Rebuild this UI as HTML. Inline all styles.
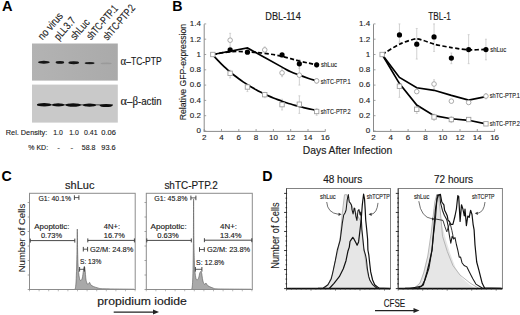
<!DOCTYPE html>
<html><head><meta charset="utf-8"><style>
html,body{margin:0;padding:0;background:#fff;width:520px;height:315px;overflow:hidden;}
svg{display:block;}
text{font-family:"Liberation Sans",sans-serif;}
</style></head><body>
<svg width="520" height="315" viewBox="0 0 520 315">
<rect width="520" height="315" fill="#fff"/>
<text x="2.0" y="10.9" font-size="14.6" font-weight="bold" fill="#000" stroke="#000" stroke-width="0.0" >A</text>
<text x="0" y="0" font-size="10.8" textLength="32" lengthAdjust="spacingAndGlyphs" fill="#1a1a1a" stroke="#1a1a1a" stroke-width="0.15" transform="translate(42.6,40.5) rotate(-49)">no virus</text>
<text x="0" y="0" font-size="10.8" textLength="26.5" lengthAdjust="spacingAndGlyphs" fill="#1a1a1a" stroke="#1a1a1a" stroke-width="0.15" transform="translate(58.8,40.9) rotate(-49)">pLL3.7</text>
<text x="0" y="0" font-size="10.8" textLength="23.8" lengthAdjust="spacingAndGlyphs" fill="#1a1a1a" stroke="#1a1a1a" stroke-width="0.15" transform="translate(74.9,40.6) rotate(-49)">shLuc</text>
<text x="0" y="0" font-size="10.8" textLength="42.0" lengthAdjust="spacingAndGlyphs" fill="#1a1a1a" stroke="#1a1a1a" stroke-width="0.15" transform="translate(91.0,40.6) rotate(-49)">shTC-PTP.1</text>
<text x="0" y="0" font-size="10.8" textLength="43.3" lengthAdjust="spacingAndGlyphs" fill="#1a1a1a" stroke="#1a1a1a" stroke-width="0.15" transform="translate(107.4,41.0) rotate(-49)">shTC-PTP.2</text>
<defs><filter id="bl" x="-50%" y="-100%" width="200%" height="300%"><feGaussianBlur stdDeviation="0.7"/></filter><filter id="bl2" x="-50%" y="-100%" width="200%" height="300%"><feGaussianBlur stdDeviation="0.9"/></filter></defs>
<defs><linearGradient id="g1" x1="0" x2="1" y1="0" y2="0"><stop offset="0" stop-color="#b3b3b3"/><stop offset="1" stop-color="#aaaaaa"/></linearGradient></defs><rect x="32" y="43.5" width="85.8" height="37.1" fill="url(#g1)"/>
<rect x="32" y="84.6" width="85.8" height="38" fill="#c9c9c9"/>
<ellipse cx="43.9" cy="62.2" rx="5.9" ry="1.45" fill="#161616" filter="url(#bl)"/>
<ellipse cx="59.9" cy="62.4" rx="4.3" ry="1.4" fill="#161616" filter="url(#bl)"/>
<ellipse cx="73.7" cy="62.7" rx="5.3" ry="1.45" fill="#121212" filter="url(#bl)"/>
<ellipse cx="89.6" cy="63.1" rx="5.0" ry="1.2" fill="#1c1c1c" filter="url(#bl)"/>
<ellipse cx="106.1" cy="63.4" rx="5.5" ry="0.9" fill="#9a9a9a" filter="url(#bl)"/>
<rect x="37" y="104.3" width="76" height="1.1" fill="#444" filter="url(#bl)"/>
<rect x="36.9" y="103.1" width="14.4" height="3.4" rx="7.2" ry="1.7" fill="#111" filter="url(#bl)"/>
<rect x="52.1" y="103.30000000000001" width="12.2" height="3.2" rx="6.1" ry="1.6" fill="#111" filter="url(#bl)"/>
<rect x="65.60000000000001" y="103.3" width="15.2" height="3.4" rx="7.6" ry="1.7" fill="#111" filter="url(#bl)"/>
<rect x="82.9" y="103.60000000000001" width="13.2" height="3.2" rx="6.6" ry="1.6" fill="#111" filter="url(#bl)"/>
<rect x="99.5" y="104.1" width="13.2" height="3.0" rx="6.6" ry="1.5" fill="#111" filter="url(#bl)"/>
<text x="120.6" y="64.8" font-size="10.2" textLength="41" lengthAdjust="spacingAndGlyphs" fill="#1a1a1a" stroke="#1a1a1a" stroke-width="0.16"><tspan font-family="Liberation Serif" font-size="13">α</tspan>–TC-PTP</text>
<text x="120.6" y="104.5" font-size="10.2" textLength="41" lengthAdjust="spacingAndGlyphs" fill="#1a1a1a" stroke="#1a1a1a" stroke-width="0.16"><tspan font-family="Liberation Serif" font-size="13">α</tspan>–<tspan font-family="Liberation Serif" font-size="11.5">β</tspan>-actin</text>
<text x="5.8" y="135.4" font-size="8.1" textLength="41.4" lengthAdjust="spacingAndGlyphs" fill="#1a1a1a" stroke="#1a1a1a" stroke-width="0.13" >Rel. Density:</text>
<text x="53.2" y="135.4" font-size="8.1" textLength="9.6" lengthAdjust="spacingAndGlyphs" fill="#1a1a1a" stroke="#1a1a1a" stroke-width="0.13" >1.0</text>
<text x="69.2" y="135.4" font-size="8.1" textLength="9.6" lengthAdjust="spacingAndGlyphs" fill="#1a1a1a" stroke="#1a1a1a" stroke-width="0.13" >1.0</text>
<text x="84" y="135.4" font-size="8.1" textLength="13.6" lengthAdjust="spacingAndGlyphs" fill="#1a1a1a" stroke="#1a1a1a" stroke-width="0.13" >0.41</text>
<text x="101.3" y="135.4" font-size="8.1" textLength="14.6" lengthAdjust="spacingAndGlyphs" fill="#1a1a1a" stroke="#1a1a1a" stroke-width="0.13" >0.06</text>
<text x="28.3" y="150.0" font-size="8.1" textLength="19.8" lengthAdjust="spacingAndGlyphs" fill="#1a1a1a" stroke="#1a1a1a" stroke-width="0.13" >% KD:</text>
<text x="57.3" y="150.0" font-size="8.1" fill="#1a1a1a" stroke="#1a1a1a" stroke-width="0.13" >-</text>
<text x="70.4" y="150.0" font-size="8.1" fill="#1a1a1a" stroke="#1a1a1a" stroke-width="0.13" >-</text>
<text x="81.8" y="150.0" font-size="8.1" textLength="13.7" lengthAdjust="spacingAndGlyphs" fill="#1a1a1a" stroke="#1a1a1a" stroke-width="0.13" >58.8</text>
<text x="101.3" y="150.0" font-size="8.1" textLength="14.4" lengthAdjust="spacingAndGlyphs" fill="#1a1a1a" stroke="#1a1a1a" stroke-width="0.13" >93.6</text>
<text x="172.2" y="10.9" font-size="14.2" font-weight="bold" fill="#000" stroke="#000" stroke-width="0.0" >B</text>
<line x1="204.2" y1="24.2" x2="204.2" y2="131.5" stroke="#8a8a8a" stroke-width="1" />
<line x1="203.7" y1="131.4" x2="325.6" y2="131.4" stroke="#8a8a8a" stroke-width="1" />
<line x1="204.2" y1="131.0" x2="206.2" y2="131.0" stroke="#8a8a8a" stroke-width="0.8" />
<text x="200.89999999999998" y="133.3" font-size="8.0" text-anchor="end" fill="#222" stroke="#222" stroke-width="0.13" >0</text>
<line x1="204.2" y1="115.7" x2="206.2" y2="115.7" stroke="#8a8a8a" stroke-width="0.8" />
<text x="200.89999999999998" y="118.0" font-size="8.0" text-anchor="end" fill="#222" stroke="#222" stroke-width="0.13" >0.2</text>
<line x1="204.2" y1="100.4" x2="206.2" y2="100.4" stroke="#8a8a8a" stroke-width="0.8" />
<text x="200.89999999999998" y="102.7" font-size="8.0" text-anchor="end" fill="#222" stroke="#222" stroke-width="0.13" >0.4</text>
<line x1="204.2" y1="85.1" x2="206.2" y2="85.1" stroke="#8a8a8a" stroke-width="0.8" />
<text x="200.89999999999998" y="87.39999999999999" font-size="8.0" text-anchor="end" fill="#222" stroke="#222" stroke-width="0.13" >0.6</text>
<line x1="204.2" y1="69.8" x2="206.2" y2="69.8" stroke="#8a8a8a" stroke-width="0.8" />
<text x="200.89999999999998" y="72.1" font-size="8.0" text-anchor="end" fill="#222" stroke="#222" stroke-width="0.13" >0.8</text>
<line x1="204.2" y1="54.5" x2="206.2" y2="54.5" stroke="#8a8a8a" stroke-width="0.8" />
<text x="200.89999999999998" y="56.8" font-size="8.0" text-anchor="end" fill="#222" stroke="#222" stroke-width="0.13" >1</text>
<line x1="204.2" y1="39.19999999999999" x2="206.2" y2="39.19999999999999" stroke="#8a8a8a" stroke-width="0.8" />
<text x="200.89999999999998" y="41.499999999999986" font-size="8.0" text-anchor="end" fill="#222" stroke="#222" stroke-width="0.13" >1.2</text>
<line x1="204.2" y1="23.89999999999999" x2="206.2" y2="23.89999999999999" stroke="#8a8a8a" stroke-width="0.8" />
<text x="200.89999999999998" y="26.199999999999992" font-size="8.0" text-anchor="end" fill="#222" stroke="#222" stroke-width="0.13" >1.4</text>
<line x1="204.2" y1="131" x2="204.2" y2="129" stroke="#8a8a8a" stroke-width="0.8" />
<text x="204.2" y="139.6" font-size="8.0" text-anchor="middle" fill="#222" stroke="#222" stroke-width="0.13" >2</text>
<line x1="221.5" y1="131" x2="221.5" y2="129" stroke="#8a8a8a" stroke-width="0.8" />
<text x="221.5" y="139.6" font-size="8.0" text-anchor="middle" fill="#222" stroke="#222" stroke-width="0.13" >4</text>
<line x1="238.79999999999998" y1="131" x2="238.79999999999998" y2="129" stroke="#8a8a8a" stroke-width="0.8" />
<text x="238.79999999999998" y="139.6" font-size="8.0" text-anchor="middle" fill="#222" stroke="#222" stroke-width="0.13" >6</text>
<line x1="256.1" y1="131" x2="256.1" y2="129" stroke="#8a8a8a" stroke-width="0.8" />
<text x="256.1" y="139.6" font-size="8.0" text-anchor="middle" fill="#222" stroke="#222" stroke-width="0.13" >8</text>
<line x1="273.4" y1="131" x2="273.4" y2="129" stroke="#8a8a8a" stroke-width="0.8" />
<text x="273.4" y="139.6" font-size="8.0" text-anchor="middle" fill="#222" stroke="#222" stroke-width="0.13" >10</text>
<line x1="290.7" y1="131" x2="290.7" y2="129" stroke="#8a8a8a" stroke-width="0.8" />
<text x="290.7" y="139.6" font-size="8.0" text-anchor="middle" fill="#222" stroke="#222" stroke-width="0.13" >12</text>
<line x1="308.0" y1="131" x2="308.0" y2="129" stroke="#8a8a8a" stroke-width="0.8" />
<text x="308.0" y="139.6" font-size="8.0" text-anchor="middle" fill="#222" stroke="#222" stroke-width="0.13" >14</text>
<line x1="325.3" y1="131" x2="325.3" y2="129" stroke="#8a8a8a" stroke-width="0.8" />
<text x="325.3" y="139.6" font-size="8.0" text-anchor="middle" fill="#222" stroke="#222" stroke-width="0.13" >16</text>
<text x="265.3" y="19.5" font-size="11" textLength="35.5" lengthAdjust="spacingAndGlyphs" fill="#1a1a1a" stroke="#1a1a1a" stroke-width="0.16" >DBL-114</text>
<line x1="230.14999999999998" y1="33.309499999999986" x2="230.14999999999998" y2="46.314499999999995" stroke="#bdbdbd" stroke-width="0.7" />
<line x1="229.14999999999998" y1="33.309499999999986" x2="231.14999999999998" y2="33.309499999999986" stroke="#bdbdbd" stroke-width="0.6" />
<line x1="229.14999999999998" y1="46.314499999999995" x2="231.14999999999998" y2="46.314499999999995" stroke="#bdbdbd" stroke-width="0.6" />
<line x1="282.05" y1="68.27" x2="282.05" y2="76.685" stroke="#bdbdbd" stroke-width="0.7" />
<line x1="281.05" y1="68.27" x2="283.05" y2="68.27" stroke="#bdbdbd" stroke-width="0.6" />
<line x1="281.05" y1="76.685" x2="283.05" y2="76.685" stroke="#bdbdbd" stroke-width="0.6" />
<line x1="299.35" y1="59.855000000000004" x2="299.35" y2="85.1" stroke="#bdbdbd" stroke-width="0.7" />
<line x1="298.35" y1="59.855000000000004" x2="300.35" y2="59.855000000000004" stroke="#bdbdbd" stroke-width="0.6" />
<line x1="298.35" y1="85.1" x2="300.35" y2="85.1" stroke="#bdbdbd" stroke-width="0.6" />
<line x1="299.35" y1="60.007999999999996" x2="299.35" y2="68.423" stroke="#bdbdbd" stroke-width="0.7" />
<line x1="298.35" y1="60.007999999999996" x2="300.35" y2="60.007999999999996" stroke="#bdbdbd" stroke-width="0.6" />
<line x1="298.35" y1="68.423" x2="300.35" y2="68.423" stroke="#bdbdbd" stroke-width="0.6" />
<line x1="230.14999999999998" y1="70.259" x2="230.14999999999998" y2="77.909" stroke="#bdbdbd" stroke-width="0.7" />
<line x1="229.14999999999998" y1="70.259" x2="231.14999999999998" y2="70.259" stroke="#bdbdbd" stroke-width="0.6" />
<line x1="229.14999999999998" y1="77.909" x2="231.14999999999998" y2="77.909" stroke="#bdbdbd" stroke-width="0.6" />
<line x1="247.45" y1="84.7175" x2="247.45" y2="91.6025" stroke="#bdbdbd" stroke-width="0.7" />
<line x1="246.45" y1="84.7175" x2="248.45" y2="84.7175" stroke="#bdbdbd" stroke-width="0.6" />
<line x1="246.45" y1="91.6025" x2="248.45" y2="91.6025" stroke="#bdbdbd" stroke-width="0.6" />
<line x1="264.75" y1="92.3675" x2="264.75" y2="97.7225" stroke="#bdbdbd" stroke-width="0.7" />
<line x1="263.75" y1="92.3675" x2="265.75" y2="92.3675" stroke="#bdbdbd" stroke-width="0.6" />
<line x1="263.75" y1="97.7225" x2="265.75" y2="97.7225" stroke="#bdbdbd" stroke-width="0.6" />
<line x1="282.05" y1="99.2525" x2="282.05" y2="109.9625" stroke="#bdbdbd" stroke-width="0.7" />
<line x1="281.05" y1="99.2525" x2="283.05" y2="99.2525" stroke="#bdbdbd" stroke-width="0.6" />
<line x1="281.05" y1="109.9625" x2="283.05" y2="109.9625" stroke="#bdbdbd" stroke-width="0.6" />
<line x1="299.35" y1="95.81" x2="299.35" y2="113.405" stroke="#bdbdbd" stroke-width="0.7" />
<line x1="298.35" y1="95.81" x2="300.35" y2="95.81" stroke="#bdbdbd" stroke-width="0.6" />
<line x1="298.35" y1="113.405" x2="300.35" y2="113.405" stroke="#bdbdbd" stroke-width="0.6" />
<line x1="316.65" y1="108.4325" x2="316.65" y2="115.3175" stroke="#bdbdbd" stroke-width="0.7" />
<line x1="315.65" y1="108.4325" x2="317.65" y2="108.4325" stroke="#bdbdbd" stroke-width="0.6" />
<line x1="315.65" y1="115.3175" x2="317.65" y2="115.3175" stroke="#bdbdbd" stroke-width="0.6" />
<line x1="316.65" y1="78.5975" x2="316.65" y2="83.1875" stroke="#bdbdbd" stroke-width="0.7" />
<line x1="315.65" y1="78.5975" x2="317.65" y2="78.5975" stroke="#bdbdbd" stroke-width="0.6" />
<line x1="315.65" y1="83.1875" x2="317.65" y2="83.1875" stroke="#bdbdbd" stroke-width="0.6" />
<line x1="316.65" y1="62.5325" x2="316.65" y2="67.1225" stroke="#bdbdbd" stroke-width="0.7" />
<line x1="315.65" y1="62.5325" x2="317.65" y2="62.5325" stroke="#bdbdbd" stroke-width="0.6" />
<line x1="315.65" y1="67.1225" x2="317.65" y2="67.1225" stroke="#bdbdbd" stroke-width="0.6" />
<line x1="264.75" y1="46.849999999999994" x2="264.75" y2="52.205" stroke="#bdbdbd" stroke-width="0.7" />
<line x1="263.75" y1="46.849999999999994" x2="265.75" y2="46.849999999999994" stroke="#bdbdbd" stroke-width="0.6" />
<line x1="263.75" y1="52.205" x2="265.75" y2="52.205" stroke="#bdbdbd" stroke-width="0.6" />
<path d="M212.85,54.50 C216.31,53.96 223.23,52.36 230.15,51.82 C237.07,51.29 240.53,51.52 247.45,51.82 C254.37,52.13 257.83,52.43 264.75,53.35 C271.67,54.27 275.13,54.88 282.05,56.41 C288.97,57.94 292.43,59.32 299.35,61.00 C306.27,62.69 313.19,64.06 316.65,64.83" stroke="#000" stroke-width="1.7" fill="none" stroke-dasharray="4.2,2.3"/>
<path d="M212.85,54.50 L247.45,47.92 L247.45,47.92 C250.91,49.85 257.83,53.72 264.75,57.56 C271.67,61.40 276.86,64.29 282.05,67.12 C287.24,69.95 287.24,70.11 290.70,71.71 C294.16,73.32 295.89,73.85 299.35,75.16 C302.81,76.46 304.54,77.07 308.00,78.22 C311.46,79.36 314.92,80.36 316.65,80.89" stroke="#000" stroke-width="1.7" fill="none" />
<path d="M212.85,54.84 C213.72,55.80 215.44,57.77 217.17,59.60 C218.90,61.44 219.77,62.32 221.50,64.02 C223.23,65.73 224.09,66.55 225.82,68.13 C227.55,69.71 228.42,70.47 230.15,71.94 C231.88,73.42 232.75,74.12 234.47,75.49 C236.20,76.86 237.07,77.51 238.80,78.78 C240.53,80.05 241.40,80.66 243.12,81.84 C244.85,83.02 245.72,83.58 247.45,84.68 C249.18,85.78 250.04,86.30 251.77,87.32 C253.50,88.34 254.37,88.83 256.10,89.77 C257.83,90.72 258.69,91.17 260.43,92.05 C262.16,92.93 263.02,93.35 264.75,94.17 C266.48,94.98 267.34,95.38 269.07,96.13 C270.81,96.89 271.67,97.26 273.40,97.96 C275.13,98.66 276.00,99.00 277.73,99.66 C279.46,100.31 280.32,100.63 282.05,101.23 C283.78,101.84 284.64,102.13 286.38,102.70 C288.11,103.26 288.97,103.53 290.70,104.06 C292.43,104.58 293.29,104.83 295.02,105.32 C296.75,105.81 297.62,106.04 299.35,106.50 C301.08,106.95 301.94,107.17 303.68,107.59 C305.41,108.01 306.27,108.21 308.00,108.60 C309.73,108.99 310.59,109.18 312.32,109.54 C314.06,109.90 315.78,110.24 316.65,110.42" stroke="#000" stroke-width="1.7" fill="none" />
<rect x="227.95" y="71.12" width="4.4" height="4.4" fill="#fff" stroke="#a0a0a0" stroke-width="0.9"/>
<rect x="245.25" y="84.81" width="4.4" height="4.4" fill="#fff" stroke="#a0a0a0" stroke-width="0.9"/>
<rect x="262.55" y="92.46" width="4.4" height="4.4" fill="#fff" stroke="#a0a0a0" stroke-width="0.9"/>
<rect x="279.85" y="102.41" width="4.4" height="4.4" fill="#fff" stroke="#a0a0a0" stroke-width="0.9"/>
<rect x="297.15" y="102.02" width="4.4" height="4.4" fill="#fff" stroke="#a0a0a0" stroke-width="0.9"/>
<rect x="314.45" y="109.29" width="4.4" height="4.4" fill="#fff" stroke="#a0a0a0" stroke-width="0.9"/>
<rect x="210.65" y="52.30" width="4.4" height="4.4" fill="#fff" stroke="#a0a0a0" stroke-width="0.9"/>
<circle cx="230.15" cy="40.19" r="2.3" fill="#fff" stroke="#a0a0a0" stroke-width="0.9"/>
<circle cx="264.75" cy="49.91" r="2.3" fill="#fff" stroke="#a0a0a0" stroke-width="0.9"/>
<circle cx="282.05" cy="72.86" r="2.3" fill="#fff" stroke="#a0a0a0" stroke-width="0.9"/>
<circle cx="299.35" cy="75.16" r="2.3" fill="#fff" stroke="#a0a0a0" stroke-width="0.9"/>
<circle cx="316.65" cy="80.89" r="2.3" fill="#fff" stroke="#a0a0a0" stroke-width="0.9"/>
<circle cx="230.15" cy="49.83" r="2.6" fill="#000"/>
<circle cx="247.45" cy="52.20" r="2.6" fill="#000"/>
<circle cx="282.05" cy="54.88" r="2.6" fill="#000"/>
<circle cx="299.35" cy="63.83" r="2.6" fill="#000"/>
<circle cx="316.65" cy="64.83" r="2.6" fill="#000"/>
<text x="321" y="67.4" font-size="6.9" textLength="16" lengthAdjust="spacingAndGlyphs" fill="#1a1a1a" stroke="#1a1a1a" stroke-width="0.13" >shLuc</text>
<text x="320.7" y="83.8" font-size="6.9" textLength="30" lengthAdjust="spacingAndGlyphs" fill="#1a1a1a" stroke="#1a1a1a" stroke-width="0.13" >shTC-PTP.1</text>
<text x="320.7" y="113.6" font-size="6.9" textLength="30" lengthAdjust="spacingAndGlyphs" fill="#1a1a1a" stroke="#1a1a1a" stroke-width="0.13" >shTC-PTP.2</text>
<text x="302.8" y="153.7" font-size="10.5" textLength="89.4" lengthAdjust="spacingAndGlyphs" fill="#1a1a1a" stroke="#1a1a1a" stroke-width="0.16" >Days After Infection</text>
<text x="0" y="0" font-size="9.4" textLength="96.5" lengthAdjust="spacingAndGlyphs" fill="#1a1a1a" stroke="#1a1a1a" stroke-width="0.12" transform="translate(185.7,120.3) rotate(-90)">Relative GFP-expression</text>
<line x1="373.5" y1="24.2" x2="373.5" y2="131.5" stroke="#8a8a8a" stroke-width="1" />
<line x1="373.0" y1="131.4" x2="494.90000000000003" y2="131.4" stroke="#8a8a8a" stroke-width="1" />
<line x1="373.5" y1="131.0" x2="375.5" y2="131.0" stroke="#8a8a8a" stroke-width="0.8" />
<text x="370.2" y="133.3" font-size="8.0" text-anchor="end" fill="#222" stroke="#222" stroke-width="0.13" >0</text>
<line x1="373.5" y1="115.7" x2="375.5" y2="115.7" stroke="#8a8a8a" stroke-width="0.8" />
<text x="370.2" y="118.0" font-size="8.0" text-anchor="end" fill="#222" stroke="#222" stroke-width="0.13" >0.2</text>
<line x1="373.5" y1="100.4" x2="375.5" y2="100.4" stroke="#8a8a8a" stroke-width="0.8" />
<text x="370.2" y="102.7" font-size="8.0" text-anchor="end" fill="#222" stroke="#222" stroke-width="0.13" >0.4</text>
<line x1="373.5" y1="85.1" x2="375.5" y2="85.1" stroke="#8a8a8a" stroke-width="0.8" />
<text x="370.2" y="87.39999999999999" font-size="8.0" text-anchor="end" fill="#222" stroke="#222" stroke-width="0.13" >0.6</text>
<line x1="373.5" y1="69.8" x2="375.5" y2="69.8" stroke="#8a8a8a" stroke-width="0.8" />
<text x="370.2" y="72.1" font-size="8.0" text-anchor="end" fill="#222" stroke="#222" stroke-width="0.13" >0.8</text>
<line x1="373.5" y1="54.5" x2="375.5" y2="54.5" stroke="#8a8a8a" stroke-width="0.8" />
<text x="370.2" y="56.8" font-size="8.0" text-anchor="end" fill="#222" stroke="#222" stroke-width="0.13" >1</text>
<line x1="373.5" y1="39.19999999999999" x2="375.5" y2="39.19999999999999" stroke="#8a8a8a" stroke-width="0.8" />
<text x="370.2" y="41.499999999999986" font-size="8.0" text-anchor="end" fill="#222" stroke="#222" stroke-width="0.13" >1.2</text>
<line x1="373.5" y1="23.89999999999999" x2="375.5" y2="23.89999999999999" stroke="#8a8a8a" stroke-width="0.8" />
<text x="370.2" y="26.199999999999992" font-size="8.0" text-anchor="end" fill="#222" stroke="#222" stroke-width="0.13" >1.4</text>
<line x1="373.5" y1="131" x2="373.5" y2="129" stroke="#8a8a8a" stroke-width="0.8" />
<text x="373.5" y="139.6" font-size="8.0" text-anchor="middle" fill="#222" stroke="#222" stroke-width="0.13" >2</text>
<line x1="390.8" y1="131" x2="390.8" y2="129" stroke="#8a8a8a" stroke-width="0.8" />
<text x="390.8" y="139.6" font-size="8.0" text-anchor="middle" fill="#222" stroke="#222" stroke-width="0.13" >4</text>
<line x1="408.1" y1="131" x2="408.1" y2="129" stroke="#8a8a8a" stroke-width="0.8" />
<text x="408.1" y="139.6" font-size="8.0" text-anchor="middle" fill="#222" stroke="#222" stroke-width="0.13" >6</text>
<line x1="425.4" y1="131" x2="425.4" y2="129" stroke="#8a8a8a" stroke-width="0.8" />
<text x="425.4" y="139.6" font-size="8.0" text-anchor="middle" fill="#222" stroke="#222" stroke-width="0.13" >8</text>
<line x1="442.7" y1="131" x2="442.7" y2="129" stroke="#8a8a8a" stroke-width="0.8" />
<text x="442.7" y="139.6" font-size="8.0" text-anchor="middle" fill="#222" stroke="#222" stroke-width="0.13" >10</text>
<line x1="460.0" y1="131" x2="460.0" y2="129" stroke="#8a8a8a" stroke-width="0.8" />
<text x="460.0" y="139.6" font-size="8.0" text-anchor="middle" fill="#222" stroke="#222" stroke-width="0.13" >12</text>
<line x1="477.3" y1="131" x2="477.3" y2="129" stroke="#8a8a8a" stroke-width="0.8" />
<text x="477.3" y="139.6" font-size="8.0" text-anchor="middle" fill="#222" stroke="#222" stroke-width="0.13" >14</text>
<line x1="494.6" y1="131" x2="494.6" y2="129" stroke="#8a8a8a" stroke-width="0.8" />
<text x="494.6" y="139.6" font-size="8.0" text-anchor="middle" fill="#222" stroke="#222" stroke-width="0.13" >16</text>
<text x="428.3" y="19.5" font-size="11" textLength="22.5" lengthAdjust="spacingAndGlyphs" fill="#1a1a1a" stroke="#1a1a1a" stroke-width="0.16" >TBL-1</text>
<line x1="399.45" y1="23.900000000000006" x2="399.45" y2="42.260000000000005" stroke="#bdbdbd" stroke-width="0.7" />
<line x1="398.45" y1="23.900000000000006" x2="400.45" y2="23.900000000000006" stroke="#bdbdbd" stroke-width="0.6" />
<line x1="398.45" y1="42.260000000000005" x2="400.45" y2="42.260000000000005" stroke="#bdbdbd" stroke-width="0.6" />
<line x1="416.75" y1="28.489999999999995" x2="416.75" y2="59.09" stroke="#bdbdbd" stroke-width="0.7" />
<line x1="415.75" y1="28.489999999999995" x2="417.75" y2="28.489999999999995" stroke="#bdbdbd" stroke-width="0.6" />
<line x1="415.75" y1="59.09" x2="417.75" y2="59.09" stroke="#bdbdbd" stroke-width="0.6" />
<line x1="434.05" y1="23.900000000000006" x2="434.05" y2="51.44" stroke="#bdbdbd" stroke-width="0.7" />
<line x1="433.05" y1="23.900000000000006" x2="435.05" y2="23.900000000000006" stroke="#bdbdbd" stroke-width="0.6" />
<line x1="433.05" y1="51.44" x2="435.05" y2="51.44" stroke="#bdbdbd" stroke-width="0.6" />
<line x1="451.35" y1="52.97" x2="451.35" y2="63.67999999999999" stroke="#bdbdbd" stroke-width="0.7" />
<line x1="450.35" y1="52.97" x2="452.35" y2="52.97" stroke="#bdbdbd" stroke-width="0.6" />
<line x1="450.35" y1="63.67999999999999" x2="452.35" y2="63.67999999999999" stroke="#bdbdbd" stroke-width="0.6" />
<line x1="468.65" y1="34.61" x2="468.65" y2="63.67999999999999" stroke="#bdbdbd" stroke-width="0.7" />
<line x1="467.65" y1="34.61" x2="469.65" y2="34.61" stroke="#bdbdbd" stroke-width="0.6" />
<line x1="467.65" y1="63.67999999999999" x2="469.65" y2="63.67999999999999" stroke="#bdbdbd" stroke-width="0.6" />
<line x1="485.95" y1="39.2" x2="485.95" y2="59.85499999999999" stroke="#bdbdbd" stroke-width="0.7" />
<line x1="484.95" y1="39.2" x2="486.95" y2="39.2" stroke="#bdbdbd" stroke-width="0.6" />
<line x1="484.95" y1="59.85499999999999" x2="486.95" y2="59.85499999999999" stroke="#bdbdbd" stroke-width="0.6" />
<line x1="399.45" y1="82.03999999999999" x2="399.45" y2="97.34" stroke="#bdbdbd" stroke-width="0.7" />
<line x1="398.45" y1="82.03999999999999" x2="400.45" y2="82.03999999999999" stroke="#bdbdbd" stroke-width="0.6" />
<line x1="398.45" y1="97.34" x2="400.45" y2="97.34" stroke="#bdbdbd" stroke-width="0.6" />
<line x1="434.05" y1="79.745" x2="434.05" y2="88.925" stroke="#bdbdbd" stroke-width="0.7" />
<line x1="433.05" y1="79.745" x2="435.05" y2="79.745" stroke="#bdbdbd" stroke-width="0.6" />
<line x1="433.05" y1="88.925" x2="435.05" y2="88.925" stroke="#bdbdbd" stroke-width="0.6" />
<line x1="416.75" y1="105.755" x2="416.75" y2="113.405" stroke="#bdbdbd" stroke-width="0.7" />
<line x1="415.75" y1="105.755" x2="417.75" y2="105.755" stroke="#bdbdbd" stroke-width="0.6" />
<line x1="415.75" y1="113.405" x2="417.75" y2="113.405" stroke="#bdbdbd" stroke-width="0.6" />
<line x1="434.05" y1="114.17" x2="434.05" y2="120.28999999999999" stroke="#bdbdbd" stroke-width="0.7" />
<line x1="433.05" y1="114.17" x2="435.05" y2="114.17" stroke="#bdbdbd" stroke-width="0.6" />
<line x1="433.05" y1="120.28999999999999" x2="435.05" y2="120.28999999999999" stroke="#bdbdbd" stroke-width="0.6" />
<line x1="451.35" y1="116.465" x2="451.35" y2="122.585" stroke="#bdbdbd" stroke-width="0.7" />
<line x1="450.35" y1="116.465" x2="452.35" y2="116.465" stroke="#bdbdbd" stroke-width="0.6" />
<line x1="450.35" y1="122.585" x2="452.35" y2="122.585" stroke="#bdbdbd" stroke-width="0.6" />
<line x1="485.95" y1="93.515" x2="485.95" y2="98.87" stroke="#bdbdbd" stroke-width="0.7" />
<line x1="484.95" y1="93.515" x2="486.95" y2="93.515" stroke="#bdbdbd" stroke-width="0.6" />
<line x1="484.95" y1="98.87" x2="486.95" y2="98.87" stroke="#bdbdbd" stroke-width="0.6" />
<path d="M382.15,54.50 C383.88,53.47 395.99,45.74 399.45,44.17 C402.91,42.60 413.29,38.82 416.75,38.82 C420.21,38.82 430.59,43.29 434.05,44.17 C437.51,45.05 447.89,47.04 451.35,47.61 C454.81,48.19 465.19,49.73 468.65,49.91 C472.11,50.09 484.22,49.43 485.95,49.37" stroke="#000" stroke-width="1.7" fill="none" stroke-dasharray="4.2,2.3"/>
<path d="M382.15,54.50 L399.45,77.45 L416.75,87.78 L434.05,90.30 L451.35,95.43 L468.65,100.02 L485.95,96.57" stroke="#000" stroke-width="1.7" fill="none" />
<path d="M382.15,54.50 L399.45,83.57 L416.75,104.99 L434.05,115.70 L451.35,118.76 L468.65,120.29 L485.95,123.81" stroke="#000" stroke-width="1.7" fill="none" />
<rect x="379.95" y="52.30" width="4.4" height="4.4" fill="#fff" stroke="#a0a0a0" stroke-width="0.9"/>
<rect x="397.25" y="84.05" width="4.4" height="4.4" fill="#fff" stroke="#a0a0a0" stroke-width="0.9"/>
<rect x="414.55" y="107.07" width="4.4" height="4.4" fill="#fff" stroke="#a0a0a0" stroke-width="0.9"/>
<rect x="431.85" y="114.80" width="4.4" height="4.4" fill="#fff" stroke="#a0a0a0" stroke-width="0.9"/>
<rect x="449.15" y="117.33" width="4.4" height="4.4" fill="#fff" stroke="#a0a0a0" stroke-width="0.9"/>
<rect x="466.45" y="117.33" width="4.4" height="4.4" fill="#fff" stroke="#a0a0a0" stroke-width="0.9"/>
<rect x="483.75" y="121.61" width="4.4" height="4.4" fill="#fff" stroke="#a0a0a0" stroke-width="0.9"/>
<circle cx="416.75" cy="91.60" r="2.3" fill="#fff" stroke="#a0a0a0" stroke-width="0.9"/>
<circle cx="434.05" cy="84.03" r="2.3" fill="#fff" stroke="#a0a0a0" stroke-width="0.9"/>
<circle cx="451.35" cy="101.16" r="2.3" fill="#fff" stroke="#a0a0a0" stroke-width="0.9"/>
<circle cx="468.65" cy="102.47" r="2.3" fill="#fff" stroke="#a0a0a0" stroke-width="0.9"/>
<circle cx="485.95" cy="96.12" r="2.3" fill="#fff" stroke="#a0a0a0" stroke-width="0.9"/>
<circle cx="399.45" cy="34.92" r="2.6" fill="#000"/>
<circle cx="416.75" cy="44.17" r="2.6" fill="#000"/>
<circle cx="434.05" cy="36.91" r="2.6" fill="#000"/>
<circle cx="451.35" cy="58.10" r="2.6" fill="#000"/>
<circle cx="468.65" cy="49.53" r="2.6" fill="#000"/>
<circle cx="485.95" cy="49.53" r="2.6" fill="#000"/>
<text x="490.2" y="51.5" font-size="6.9" textLength="16" lengthAdjust="spacingAndGlyphs" fill="#1a1a1a" stroke="#1a1a1a" stroke-width="0.13" >shLuc</text>
<text x="489.8" y="98.3" font-size="6.9" textLength="30" lengthAdjust="spacingAndGlyphs" fill="#1a1a1a" stroke="#1a1a1a" stroke-width="0.13" >shTC-PTP.1</text>
<text x="489.8" y="126.3" font-size="6.9" textLength="30" lengthAdjust="spacingAndGlyphs" fill="#1a1a1a" stroke="#1a1a1a" stroke-width="0.13" >shTC-PTP.2</text>
<text x="1.6" y="181.2" font-size="14.2" font-weight="bold" fill="#000" stroke="#000" stroke-width="0.0" >C</text>
<text x="0" y="0" font-size="9.3" textLength="68.5" lengthAdjust="spacingAndGlyphs" fill="#1a1a1a" stroke="#1a1a1a" stroke-width="0.06" transform="translate(25.2,272.3) rotate(-90)">Number of Cells</text>
<text x="97.3" y="305.4" font-size="11" textLength="89.6" lengthAdjust="spacingAndGlyphs" fill="#1a1a1a" stroke="#1a1a1a" stroke-width="0.16" >propidium iodide</text>
<line x1="113.7" y1="312.1" x2="154" y2="312.1" stroke="#222" stroke-width="1.1" />
<path d="M159,312.1 L153,309.6 L153,314.6 Z" stroke="none" stroke-width="1" fill="#222" />
<text x="65" y="188.5" font-size="10.6" textLength="29.4" lengthAdjust="spacingAndGlyphs" fill="#1a1a1a" stroke="#1a1a1a" stroke-width="0.16" >shLuc</text>
<path d="M74.80,289.30 C74.91,289.03 75.31,288.75 75.50,287.50 C75.69,286.25 75.94,283.93 76.10,281.00 C76.26,278.07 76.46,272.65 76.60,268.00 C76.73,263.35 76.89,255.85 77.00,250.00 C77.11,244.15 77.21,229.00 77.30,229.00 C77.39,229.00 77.48,244.45 77.60,250.00 C77.72,255.55 77.92,262.40 78.10,266.00 C78.28,269.60 78.55,271.98 78.80,274.00 C79.05,276.02 79.47,278.52 79.80,279.50 C80.13,280.48 80.62,280.73 81.00,280.50 C81.38,280.27 81.94,279.43 82.30,278.00 C82.66,276.57 83.10,272.77 83.40,271.00 C83.70,269.23 84.05,266.35 84.30,266.20 C84.55,266.05 84.86,268.08 85.10,270.00 C85.34,271.92 85.62,277.00 85.90,279.00 C86.19,281.00 86.66,282.52 87.00,283.30 C87.34,284.08 87.81,284.33 88.20,284.20 C88.59,284.06 89.21,282.31 89.60,282.40 C89.99,282.49 90.24,284.20 90.80,284.80 C91.36,285.40 92.22,285.92 93.30,286.40 C94.38,286.88 96.39,287.64 98.00,288.00 C99.61,288.36 98.60,288.62 104.00,288.80 C109.40,288.98 129.50,289.14 134.00,289.20 L134,289.5 L74.8,289.5 Z" stroke="#555" stroke-width="0.6" fill="#a9a9a9" />
<rect x="29.5" y="193.3" width="105.69999999999999" height="96.19999999999999" fill="none" stroke="#8c8c8c" stroke-width="1"/>
<line x1="27.7" y1="289.5" x2="29.5" y2="289.5" stroke="#8c8c8c" stroke-width="0.8" />
<line x1="27.7" y1="275.0" x2="29.5" y2="275.0" stroke="#8c8c8c" stroke-width="0.8" />
<line x1="27.7" y1="260.5" x2="29.5" y2="260.5" stroke="#8c8c8c" stroke-width="0.8" />
<line x1="27.7" y1="246.0" x2="29.5" y2="246.0" stroke="#8c8c8c" stroke-width="0.8" />
<line x1="27.7" y1="231.5" x2="29.5" y2="231.5" stroke="#8c8c8c" stroke-width="0.8" />
<line x1="27.7" y1="217.0" x2="29.5" y2="217.0" stroke="#8c8c8c" stroke-width="0.8" />
<line x1="27.7" y1="202.5" x2="29.5" y2="202.5" stroke="#8c8c8c" stroke-width="0.8" />
<line x1="29.5" y1="289.5" x2="29.5" y2="291.3" stroke="#8c8c8c" stroke-width="0.6" />
<line x1="39.1" y1="289.5" x2="39.1" y2="291.3" stroke="#8c8c8c" stroke-width="0.6" />
<line x1="48.7" y1="289.5" x2="48.7" y2="291.3" stroke="#8c8c8c" stroke-width="0.6" />
<line x1="58.3" y1="289.5" x2="58.3" y2="291.3" stroke="#8c8c8c" stroke-width="0.6" />
<line x1="67.9" y1="289.5" x2="67.9" y2="291.3" stroke="#8c8c8c" stroke-width="0.6" />
<line x1="77.5" y1="289.5" x2="77.5" y2="291.3" stroke="#8c8c8c" stroke-width="0.6" />
<line x1="87.1" y1="289.5" x2="87.1" y2="291.3" stroke="#8c8c8c" stroke-width="0.6" />
<line x1="96.7" y1="289.5" x2="96.7" y2="291.3" stroke="#8c8c8c" stroke-width="0.6" />
<line x1="106.3" y1="289.5" x2="106.3" y2="291.3" stroke="#8c8c8c" stroke-width="0.6" />
<line x1="115.89999999999999" y1="289.5" x2="115.89999999999999" y2="291.3" stroke="#8c8c8c" stroke-width="0.6" />
<line x1="125.5" y1="289.5" x2="125.5" y2="291.3" stroke="#8c8c8c" stroke-width="0.6" />
<line x1="135.1" y1="289.5" x2="135.1" y2="291.3" stroke="#8c8c8c" stroke-width="0.6" />
<text x="164.4" y="188.5" font-size="10.6" textLength="53.4" lengthAdjust="spacingAndGlyphs" fill="#1a1a1a" stroke="#1a1a1a" stroke-width="0.16" >shTC-PTP.2</text>
<path d="M191.60,289.30 C191.69,288.95 192.03,288.39 192.20,287.00 C192.36,285.61 192.56,283.30 192.70,280.00 C192.83,276.70 193.00,271.00 193.10,265.00 C193.20,259.00 193.33,249.90 193.40,240.00 C193.47,230.10 193.53,199.00 193.60,199.00 C193.67,199.00 193.78,230.55 193.90,240.00 C194.02,249.45 194.24,257.20 194.40,262.00 C194.56,266.80 194.76,269.52 195.00,272.00 C195.24,274.48 195.67,277.33 196.00,278.50 C196.33,279.67 196.81,279.88 197.20,279.80 C197.59,279.73 198.21,279.02 198.60,278.00 C198.99,276.98 199.44,273.99 199.80,273.00 C200.16,272.01 200.70,271.25 201.00,271.40 C201.30,271.55 201.55,272.71 201.80,274.00 C202.06,275.29 202.37,278.53 202.70,280.00 C203.03,281.47 203.62,283.17 204.00,283.80 C204.38,284.43 204.91,284.32 205.20,284.20 C205.48,284.08 205.60,282.88 205.90,283.00 C206.20,283.12 206.66,284.46 207.20,285.00 C207.74,285.54 208.63,286.15 209.50,286.60 C210.37,287.05 211.72,287.66 213.00,288.00 C214.28,288.34 212.30,288.72 218.00,288.90 C223.70,289.08 246.05,289.15 251.00,289.20 L251,289.5 L191.6,289.5 Z" stroke="#555" stroke-width="0.6" fill="#a9a9a9" />
<rect x="146.3" y="193.3" width="106.0" height="96.19999999999999" fill="none" stroke="#8c8c8c" stroke-width="1"/>
<line x1="144.5" y1="289.5" x2="146.3" y2="289.5" stroke="#8c8c8c" stroke-width="0.8" />
<line x1="144.5" y1="275.0" x2="146.3" y2="275.0" stroke="#8c8c8c" stroke-width="0.8" />
<line x1="144.5" y1="260.5" x2="146.3" y2="260.5" stroke="#8c8c8c" stroke-width="0.8" />
<line x1="144.5" y1="246.0" x2="146.3" y2="246.0" stroke="#8c8c8c" stroke-width="0.8" />
<line x1="144.5" y1="231.5" x2="146.3" y2="231.5" stroke="#8c8c8c" stroke-width="0.8" />
<line x1="144.5" y1="217.0" x2="146.3" y2="217.0" stroke="#8c8c8c" stroke-width="0.8" />
<line x1="144.5" y1="202.5" x2="146.3" y2="202.5" stroke="#8c8c8c" stroke-width="0.8" />
<line x1="146.3" y1="289.5" x2="146.3" y2="291.3" stroke="#8c8c8c" stroke-width="0.6" />
<line x1="155.9" y1="289.5" x2="155.9" y2="291.3" stroke="#8c8c8c" stroke-width="0.6" />
<line x1="165.5" y1="289.5" x2="165.5" y2="291.3" stroke="#8c8c8c" stroke-width="0.6" />
<line x1="175.10000000000002" y1="289.5" x2="175.10000000000002" y2="291.3" stroke="#8c8c8c" stroke-width="0.6" />
<line x1="184.70000000000002" y1="289.5" x2="184.70000000000002" y2="291.3" stroke="#8c8c8c" stroke-width="0.6" />
<line x1="194.3" y1="289.5" x2="194.3" y2="291.3" stroke="#8c8c8c" stroke-width="0.6" />
<line x1="203.9" y1="289.5" x2="203.9" y2="291.3" stroke="#8c8c8c" stroke-width="0.6" />
<line x1="213.5" y1="289.5" x2="213.5" y2="291.3" stroke="#8c8c8c" stroke-width="0.6" />
<line x1="223.10000000000002" y1="289.5" x2="223.10000000000002" y2="291.3" stroke="#8c8c8c" stroke-width="0.6" />
<line x1="232.7" y1="289.5" x2="232.7" y2="291.3" stroke="#8c8c8c" stroke-width="0.6" />
<line x1="242.3" y1="289.5" x2="242.3" y2="291.3" stroke="#8c8c8c" stroke-width="0.6" />
<line x1="251.9" y1="289.5" x2="251.9" y2="291.3" stroke="#8c8c8c" stroke-width="0.6" />
<text x="38.5" y="200.5" font-size="7.3" textLength="32.6" lengthAdjust="spacingAndGlyphs" fill="#1a1a1a" stroke="#1a1a1a" stroke-width="0.13" >G1: 40.1%</text>
<line x1="74.4" y1="197.6" x2="78.9" y2="197.6" stroke="#333" stroke-width="0.8" />
<line x1="74.4" y1="195.29999999999998" x2="74.4" y2="199.9" stroke="#333" stroke-width="0.9" />
<line x1="78.9" y1="195.29999999999998" x2="78.9" y2="199.9" stroke="#333" stroke-width="0.9" />
<text x="34.3" y="228.9" font-size="7.3" textLength="35.2" lengthAdjust="spacingAndGlyphs" fill="#1a1a1a" stroke="#1a1a1a" stroke-width="0.13" >Apoptotic:</text>
<text x="41" y="237.5" font-size="7.3" textLength="21" lengthAdjust="spacingAndGlyphs" fill="#1a1a1a" stroke="#1a1a1a" stroke-width="0.13" >0.73%</text>
<line x1="30.3" y1="240.6" x2="74.8" y2="240.6" stroke="#333" stroke-width="0.9" />
<line x1="30.3" y1="238.6" x2="30.3" y2="242.6" stroke="#333" stroke-width="0.9" />
<line x1="74.8" y1="238.6" x2="74.8" y2="242.6" stroke="#333" stroke-width="0.9" />
<text x="103.8" y="228.9" font-size="7.3" textLength="16.2" lengthAdjust="spacingAndGlyphs" fill="#1a1a1a" stroke="#1a1a1a" stroke-width="0.13" >4N+:</text>
<text x="103.8" y="237.5" font-size="7.3" textLength="21" lengthAdjust="spacingAndGlyphs" fill="#1a1a1a" stroke="#1a1a1a" stroke-width="0.13" >16.7%</text>
<line x1="87.8" y1="240.4" x2="134.4" y2="240.4" stroke="#333" stroke-width="0.9" />
<line x1="87.8" y1="238.4" x2="87.8" y2="242.4" stroke="#333" stroke-width="0.9" />
<line x1="134.4" y1="238.4" x2="134.4" y2="242.4" stroke="#333" stroke-width="0.9" />
<line x1="83.3" y1="249.2" x2="87.6" y2="249.2" stroke="#333" stroke-width="0.8" />
<line x1="83.3" y1="246.89999999999998" x2="83.3" y2="251.5" stroke="#333" stroke-width="0.9" />
<line x1="87.6" y1="246.89999999999998" x2="87.6" y2="251.5" stroke="#333" stroke-width="0.9" />
<text x="90.0" y="251.6" font-size="7.3" textLength="43.3" lengthAdjust="spacingAndGlyphs" fill="#1a1a1a" stroke="#1a1a1a" stroke-width="0.13" >G2/M: 24.8%</text>
<text x="80" y="264.2" font-size="7.3" textLength="21.3" lengthAdjust="spacingAndGlyphs" fill="#1a1a1a" stroke="#1a1a1a" stroke-width="0.13" >S: 13%</text>
<line x1="79.6" y1="269.3" x2="84.4" y2="269.3" stroke="#333" stroke-width="0.8" />
<line x1="79.6" y1="267.0" x2="79.6" y2="271.6" stroke="#333" stroke-width="0.9" />
<line x1="84.4" y1="267.0" x2="84.4" y2="271.6" stroke="#333" stroke-width="0.9" />
<text x="154.3" y="200.7" font-size="7.3" textLength="33.2" lengthAdjust="spacingAndGlyphs" fill="#1a1a1a" stroke="#1a1a1a" stroke-width="0.13" >G1: 45.8%</text>
<line x1="190.9" y1="197.9" x2="195.9" y2="197.9" stroke="#333" stroke-width="0.8" />
<line x1="190.9" y1="195.6" x2="190.9" y2="200.20000000000002" stroke="#333" stroke-width="0.9" />
<line x1="195.9" y1="195.6" x2="195.9" y2="200.20000000000002" stroke="#333" stroke-width="0.9" />
<text x="150.5" y="228.9" font-size="7.3" textLength="36.2" lengthAdjust="spacingAndGlyphs" fill="#1a1a1a" stroke="#1a1a1a" stroke-width="0.13" >Apoptotic:</text>
<text x="157.3" y="237.5" font-size="7.3" textLength="21.5" lengthAdjust="spacingAndGlyphs" fill="#1a1a1a" stroke="#1a1a1a" stroke-width="0.13" >0.63%</text>
<line x1="146.8" y1="240.4" x2="191.3" y2="240.4" stroke="#333" stroke-width="0.9" />
<line x1="146.8" y1="238.4" x2="146.8" y2="242.4" stroke="#333" stroke-width="0.9" />
<line x1="191.3" y1="238.4" x2="191.3" y2="242.4" stroke="#333" stroke-width="0.9" />
<text x="220" y="228.9" font-size="7.3" textLength="17" lengthAdjust="spacingAndGlyphs" fill="#1a1a1a" stroke="#1a1a1a" stroke-width="0.13" >4N+:</text>
<text x="220" y="237.5" font-size="7.3" textLength="21.6" lengthAdjust="spacingAndGlyphs" fill="#1a1a1a" stroke="#1a1a1a" stroke-width="0.13" >13.4%</text>
<line x1="204.4" y1="240.2" x2="251.8" y2="240.2" stroke="#333" stroke-width="0.9" />
<line x1="204.4" y1="238.2" x2="204.4" y2="242.2" stroke="#333" stroke-width="0.9" />
<line x1="251.8" y1="238.2" x2="251.8" y2="242.2" stroke="#333" stroke-width="0.9" />
<line x1="199.5" y1="249.5" x2="204.3" y2="249.5" stroke="#333" stroke-width="0.8" />
<line x1="199.5" y1="247.2" x2="199.5" y2="251.8" stroke="#333" stroke-width="0.9" />
<line x1="204.3" y1="247.2" x2="204.3" y2="251.8" stroke="#333" stroke-width="0.9" />
<text x="207.0" y="251.9" font-size="7.3" textLength="43.1" lengthAdjust="spacingAndGlyphs" fill="#1a1a1a" stroke="#1a1a1a" stroke-width="0.13" >G2/M: 23.8%</text>
<text x="196.1" y="264.6" font-size="7.3" textLength="28.2" lengthAdjust="spacingAndGlyphs" fill="#1a1a1a" stroke="#1a1a1a" stroke-width="0.13" >S: 12.8%</text>
<line x1="195.4" y1="269.3" x2="201.9" y2="269.3" stroke="#333" stroke-width="0.8" />
<line x1="195.4" y1="267.0" x2="195.4" y2="271.6" stroke="#333" stroke-width="0.9" />
<line x1="201.9" y1="267.0" x2="201.9" y2="271.6" stroke="#333" stroke-width="0.9" />
<text x="262.2" y="180.9" font-size="14.2" font-weight="bold" fill="#000" stroke="#000" stroke-width="0.0" >D</text>
<text x="0" y="0" font-size="10" textLength="66.5" lengthAdjust="spacingAndGlyphs" fill="#1a1a1a" stroke="#1a1a1a" stroke-width="0.1" transform="translate(278.6,268.8) rotate(-90)">Number of Cells</text>
<text x="383.8" y="306.6" font-size="11.2" textLength="21.4" lengthAdjust="spacingAndGlyphs" fill="#1a1a1a" stroke="#1a1a1a" stroke-width="0.16" >CFSE</text>
<line x1="375" y1="310.6" x2="414" y2="310.6" stroke="#222" stroke-width="1.1" />
<path d="M419.5,310.6 L413.5,308.1 L413.5,313.1 Z" stroke="none" stroke-width="1" fill="#222" />
<text x="323.2" y="182.6" font-size="11" textLength="39" lengthAdjust="spacingAndGlyphs" fill="#1a1a1a" stroke="#1a1a1a" stroke-width="0.16" >48 hours</text>
<path d="M324.00,288.50 L329.30,282.00 L332.70,274.00 L334.70,263.30 L338.00,250.00 L340.50,235.00 L342.30,215.00 L344.50,194.80 L346.50,194.50 L348.50,199.00 L352.00,205.00 L356.00,212.00 L360.00,218.00 L361.00,225.00 L362.30,239.00 L363.50,250.00 L365.50,259.00 L366.80,269.00 L368.50,278.00 L371.00,284.00 L375.00,288.50 Z" stroke="none" stroke-width="0" fill="#e6e6e6" />
<path d="M325.30,288.00 L329.30,282.00 L332.70,274.00 L334.70,263.30 L338.00,250.00 L340.50,235.00 L342.30,213.00 L344.50,194.80 L346.50,194.50 L349.00,201.00 L353.00,208.00 L357.00,215.00 L360.50,221.00 L361.80,232.00 L363.20,245.00 L365.00,257.00 L366.60,268.00 L368.50,277.00 L371.50,284.00 L376.00,288.50" stroke="#b0b0b0" stroke-width="0.9" fill="none" />
<path d="M300.00,288.40 L318.00,288.20 L323.30,288.00 L328.00,284.70 L331.30,278.70 L333.30,270.00 L335.30,260.70 L337.30,250.00 L340.20,240.10 L342.30,223.40 L343.70,215.00 L345.00,213.00 L346.10,210.00 L347.20,200.00 L348.30,194.50 L349.30,202.00 L350.40,203.10 L351.50,205.30 L352.00,209.60 L353.10,213.90 L354.20,208.50 L354.70,208.00 L355.80,216.00 L356.90,220.40 L358.00,210.70 L359.00,209.60 L360.10,215.00 L360.80,212.00 L361.40,220.00 L361.90,229.50 L362.90,239.00 L364.00,250.00 L365.50,254.80 L366.40,259.50 L367.40,269.00 L368.80,276.70 L369.80,280.00 L372.70,284.70 L376.70,288.00 L390.00,288.40" stroke="#1a1a1a" stroke-width="1.05" fill="none" stroke-linejoin="round"/>
<path d="M329.30,288.50 L334.00,283.30 L339.30,276.70 L343.30,268.70 L346.00,260.70 L347.90,251.30 L349.30,247.10 L350.00,241.50 L351.40,239.40 L352.80,237.30 L354.20,239.40 L356.30,243.60 L357.10,245.20 L358.60,241.90 L359.50,234.30 L360.50,225.70 L361.30,218.00 L362.30,205.00 L363.60,194.00 L364.50,198.80 L365.20,209.60 L365.70,220.00 L366.70,229.50 L367.60,239.00 L367.90,250.00 L368.80,254.80 L369.80,264.30 L370.70,271.90 L372.60,280.00 L374.70,284.70 L379.30,288.40" stroke="#111" stroke-width="1.2" fill="none" stroke-linejoin="round"/>
<rect x="286.5" y="188.5" width="104.0" height="100.10000000000002" fill="none" stroke="#777" stroke-width="0.9"/>
<line x1="286.5" y1="288.6" x2="390.5" y2="288.6" stroke="#111" stroke-width="1.6" />
<line x1="286.5" y1="188.5" x2="286.5" y2="288.6" stroke="#444" stroke-width="1.0" />
<line x1="284.1" y1="288.6" x2="287.1" y2="288.6" stroke="#222" stroke-width="0.9" />
<line x1="285.5" y1="283.84000000000003" x2="287.1" y2="283.84000000000003" stroke="#222" stroke-width="0.9" />
<line x1="285.5" y1="279.08000000000004" x2="287.1" y2="279.08000000000004" stroke="#222" stroke-width="0.9" />
<line x1="285.5" y1="274.32000000000005" x2="287.1" y2="274.32000000000005" stroke="#222" stroke-width="0.9" />
<line x1="284.1" y1="269.56" x2="287.1" y2="269.56" stroke="#222" stroke-width="0.9" />
<line x1="285.5" y1="264.8" x2="287.1" y2="264.8" stroke="#222" stroke-width="0.9" />
<line x1="285.5" y1="260.04" x2="287.1" y2="260.04" stroke="#222" stroke-width="0.9" />
<line x1="285.5" y1="255.28000000000003" x2="287.1" y2="255.28000000000003" stroke="#222" stroke-width="0.9" />
<line x1="284.1" y1="250.52000000000004" x2="287.1" y2="250.52000000000004" stroke="#222" stroke-width="0.9" />
<line x1="285.5" y1="245.76000000000002" x2="287.1" y2="245.76000000000002" stroke="#222" stroke-width="0.9" />
<line x1="285.5" y1="241.00000000000003" x2="287.1" y2="241.00000000000003" stroke="#222" stroke-width="0.9" />
<line x1="285.5" y1="236.24" x2="287.1" y2="236.24" stroke="#222" stroke-width="0.9" />
<line x1="284.1" y1="231.48000000000002" x2="287.1" y2="231.48000000000002" stroke="#222" stroke-width="0.9" />
<line x1="285.5" y1="226.72000000000003" x2="287.1" y2="226.72000000000003" stroke="#222" stroke-width="0.9" />
<line x1="285.5" y1="221.96000000000004" x2="287.1" y2="221.96000000000004" stroke="#222" stroke-width="0.9" />
<line x1="285.5" y1="217.20000000000005" x2="287.1" y2="217.20000000000005" stroke="#222" stroke-width="0.9" />
<line x1="284.1" y1="212.44000000000003" x2="287.1" y2="212.44000000000003" stroke="#222" stroke-width="0.9" />
<line x1="285.5" y1="207.68" x2="287.1" y2="207.68" stroke="#222" stroke-width="0.9" />
<line x1="285.5" y1="202.92000000000002" x2="287.1" y2="202.92000000000002" stroke="#222" stroke-width="0.9" />
<line x1="285.5" y1="198.16000000000003" x2="287.1" y2="198.16000000000003" stroke="#222" stroke-width="0.9" />
<line x1="284.1" y1="193.40000000000003" x2="287.1" y2="193.40000000000003" stroke="#222" stroke-width="0.9" />
<line x1="286.5" y1="288.6" x2="286.5" y2="290.6" stroke="#444" stroke-width="0.7" />
<line x1="291.4" y1="288.6" x2="291.4" y2="289.8" stroke="#444" stroke-width="0.7" />
<line x1="296.3" y1="288.6" x2="296.3" y2="289.8" stroke="#444" stroke-width="0.7" />
<line x1="301.2" y1="288.6" x2="301.2" y2="289.8" stroke="#444" stroke-width="0.7" />
<line x1="306.1" y1="288.6" x2="306.1" y2="289.8" stroke="#444" stroke-width="0.7" />
<line x1="311.0" y1="288.6" x2="311.0" y2="290.6" stroke="#444" stroke-width="0.7" />
<line x1="315.9" y1="288.6" x2="315.9" y2="289.8" stroke="#444" stroke-width="0.7" />
<line x1="320.8" y1="288.6" x2="320.8" y2="289.8" stroke="#444" stroke-width="0.7" />
<line x1="325.7" y1="288.6" x2="325.7" y2="289.8" stroke="#444" stroke-width="0.7" />
<line x1="330.6" y1="288.6" x2="330.6" y2="289.8" stroke="#444" stroke-width="0.7" />
<line x1="335.5" y1="288.6" x2="335.5" y2="290.6" stroke="#444" stroke-width="0.7" />
<line x1="340.4" y1="288.6" x2="340.4" y2="289.8" stroke="#444" stroke-width="0.7" />
<line x1="345.3" y1="288.6" x2="345.3" y2="289.8" stroke="#444" stroke-width="0.7" />
<line x1="350.2" y1="288.6" x2="350.2" y2="289.8" stroke="#444" stroke-width="0.7" />
<line x1="355.1" y1="288.6" x2="355.1" y2="289.8" stroke="#444" stroke-width="0.7" />
<line x1="360.0" y1="288.6" x2="360.0" y2="290.6" stroke="#444" stroke-width="0.7" />
<line x1="364.9" y1="288.6" x2="364.9" y2="289.8" stroke="#444" stroke-width="0.7" />
<line x1="369.8" y1="288.6" x2="369.8" y2="289.8" stroke="#444" stroke-width="0.7" />
<line x1="374.7" y1="288.6" x2="374.7" y2="289.8" stroke="#444" stroke-width="0.7" />
<line x1="379.6" y1="288.6" x2="379.6" y2="289.8" stroke="#444" stroke-width="0.7" />
<line x1="384.5" y1="288.6" x2="384.5" y2="290.6" stroke="#444" stroke-width="0.7" />
<line x1="389.4" y1="288.6" x2="389.4" y2="289.8" stroke="#444" stroke-width="0.7" />
<text x="434" y="182.6" font-size="11" textLength="39" lengthAdjust="spacingAndGlyphs" fill="#1a1a1a" stroke="#1a1a1a" stroke-width="0.16" >72 hours</text>
<path d="M412.00,288.50 L418.00,285.00 L422.00,278.00 L425.00,265.00 L427.80,255.00 L430.50,240.00 L432.50,220.00 L434.80,202.00 L436.90,194.30 L438.50,196.00 L440.40,212.00 L442.00,225.00 L446.00,240.00 L450.00,253.00 L455.70,268.00 L462.00,278.00 L470.00,285.00 L476.00,288.50 Z" stroke="none" stroke-width="0" fill="#e6e6e6" />
<path d="M414.00,288.50 L420.00,283.00 L424.00,272.00 L427.80,256.00 L431.30,232.00 L434.80,202.00 L436.90,194.30 L438.50,197.00 L440.40,212.00 L442.50,236.20 L447.30,251.50 L452.90,265.50 L460.00,275.00 L470.00,283.00 L479.00,288.50" stroke="#b0b0b0" stroke-width="0.9" fill="none" />
<path d="M410.00,288.40 L421.70,286.00 L425.00,280.00 L429.00,268.00 L432.00,250.00 L433.50,235.00 L435.40,219.10 L437.30,195.00 L439.80,195.00 L440.50,202.60 L442.40,210.20 L444.30,215.30 L446.80,219.70 L448.00,225.50 L449.30,235.00 L450.80,243.20 L452.20,236.20 L453.60,239.00 L455.00,237.60 L456.40,244.50 L457.80,250.10 L459.20,257.10 L460.60,257.10 L462.00,262.70 L464.10,265.50 L466.90,266.90 L469.50,272.20 L472.70,278.60 L475.90,284.10 L482.20,288.00 L501.00,288.40" stroke="#1a1a1a" stroke-width="1.05" fill="none" stroke-linejoin="round"/>
<path d="M405.00,288.40 L418.00,288.20 L423.30,285.00 L427.00,272.00 L429.20,263.00 L432.00,250.10 L434.10,225.00 L435.50,209.00 L437.00,199.00 L438.50,195.00 L440.40,194.30 L441.80,202.00 L443.90,204.80 L444.60,210.30 L446.00,213.10 L447.30,215.90 L448.00,220.10 L449.40,221.50 L450.80,224.30 L452.90,224.30 L455.00,216.00 L456.40,209.00 L457.80,195.70 L458.70,196.40 L460.10,221.50 L461.50,204.80 L462.90,209.00 L464.30,216.00 L465.00,209.00 L466.40,225.70 L467.80,216.00 L469.20,217.30 L470.60,210.30 L472.00,214.50 L473.10,224.30 L474.10,229.90 L475.00,245.00 L476.70,262.00 L479.00,270.60 L482.20,283.30 L484.60,288.00 L501.00,288.40" stroke="#111" stroke-width="1.2" fill="none" stroke-linejoin="round"/>
<rect x="398.2" y="188.5" width="104.19999999999999" height="100.10000000000002" fill="none" stroke="#777" stroke-width="0.9"/>
<line x1="398.2" y1="288.6" x2="502.4" y2="288.6" stroke="#111" stroke-width="1.6" />
<line x1="398.2" y1="188.5" x2="398.2" y2="288.6" stroke="#444" stroke-width="1.0" />
<line x1="395.8" y1="288.6" x2="398.8" y2="288.6" stroke="#222" stroke-width="0.9" />
<line x1="397.2" y1="283.84000000000003" x2="398.8" y2="283.84000000000003" stroke="#222" stroke-width="0.9" />
<line x1="397.2" y1="279.08000000000004" x2="398.8" y2="279.08000000000004" stroke="#222" stroke-width="0.9" />
<line x1="397.2" y1="274.32000000000005" x2="398.8" y2="274.32000000000005" stroke="#222" stroke-width="0.9" />
<line x1="395.8" y1="269.56" x2="398.8" y2="269.56" stroke="#222" stroke-width="0.9" />
<line x1="397.2" y1="264.8" x2="398.8" y2="264.8" stroke="#222" stroke-width="0.9" />
<line x1="397.2" y1="260.04" x2="398.8" y2="260.04" stroke="#222" stroke-width="0.9" />
<line x1="397.2" y1="255.28000000000003" x2="398.8" y2="255.28000000000003" stroke="#222" stroke-width="0.9" />
<line x1="395.8" y1="250.52000000000004" x2="398.8" y2="250.52000000000004" stroke="#222" stroke-width="0.9" />
<line x1="397.2" y1="245.76000000000002" x2="398.8" y2="245.76000000000002" stroke="#222" stroke-width="0.9" />
<line x1="397.2" y1="241.00000000000003" x2="398.8" y2="241.00000000000003" stroke="#222" stroke-width="0.9" />
<line x1="397.2" y1="236.24" x2="398.8" y2="236.24" stroke="#222" stroke-width="0.9" />
<line x1="395.8" y1="231.48000000000002" x2="398.8" y2="231.48000000000002" stroke="#222" stroke-width="0.9" />
<line x1="397.2" y1="226.72000000000003" x2="398.8" y2="226.72000000000003" stroke="#222" stroke-width="0.9" />
<line x1="397.2" y1="221.96000000000004" x2="398.8" y2="221.96000000000004" stroke="#222" stroke-width="0.9" />
<line x1="397.2" y1="217.20000000000005" x2="398.8" y2="217.20000000000005" stroke="#222" stroke-width="0.9" />
<line x1="395.8" y1="212.44000000000003" x2="398.8" y2="212.44000000000003" stroke="#222" stroke-width="0.9" />
<line x1="397.2" y1="207.68" x2="398.8" y2="207.68" stroke="#222" stroke-width="0.9" />
<line x1="397.2" y1="202.92000000000002" x2="398.8" y2="202.92000000000002" stroke="#222" stroke-width="0.9" />
<line x1="397.2" y1="198.16000000000003" x2="398.8" y2="198.16000000000003" stroke="#222" stroke-width="0.9" />
<line x1="395.8" y1="193.40000000000003" x2="398.8" y2="193.40000000000003" stroke="#222" stroke-width="0.9" />
<line x1="398.2" y1="288.6" x2="398.2" y2="290.6" stroke="#444" stroke-width="0.7" />
<line x1="403.09999999999997" y1="288.6" x2="403.09999999999997" y2="289.8" stroke="#444" stroke-width="0.7" />
<line x1="408.0" y1="288.6" x2="408.0" y2="289.8" stroke="#444" stroke-width="0.7" />
<line x1="412.9" y1="288.6" x2="412.9" y2="289.8" stroke="#444" stroke-width="0.7" />
<line x1="417.8" y1="288.6" x2="417.8" y2="289.8" stroke="#444" stroke-width="0.7" />
<line x1="422.7" y1="288.6" x2="422.7" y2="290.6" stroke="#444" stroke-width="0.7" />
<line x1="427.59999999999997" y1="288.6" x2="427.59999999999997" y2="289.8" stroke="#444" stroke-width="0.7" />
<line x1="432.5" y1="288.6" x2="432.5" y2="289.8" stroke="#444" stroke-width="0.7" />
<line x1="437.4" y1="288.6" x2="437.4" y2="289.8" stroke="#444" stroke-width="0.7" />
<line x1="442.3" y1="288.6" x2="442.3" y2="289.8" stroke="#444" stroke-width="0.7" />
<line x1="447.2" y1="288.6" x2="447.2" y2="290.6" stroke="#444" stroke-width="0.7" />
<line x1="452.1" y1="288.6" x2="452.1" y2="289.8" stroke="#444" stroke-width="0.7" />
<line x1="457.0" y1="288.6" x2="457.0" y2="289.8" stroke="#444" stroke-width="0.7" />
<line x1="461.9" y1="288.6" x2="461.9" y2="289.8" stroke="#444" stroke-width="0.7" />
<line x1="466.8" y1="288.6" x2="466.8" y2="289.8" stroke="#444" stroke-width="0.7" />
<line x1="471.7" y1="288.6" x2="471.7" y2="290.6" stroke="#444" stroke-width="0.7" />
<line x1="476.6" y1="288.6" x2="476.6" y2="289.8" stroke="#444" stroke-width="0.7" />
<line x1="481.5" y1="288.6" x2="481.5" y2="289.8" stroke="#444" stroke-width="0.7" />
<line x1="486.4" y1="288.6" x2="486.4" y2="289.8" stroke="#444" stroke-width="0.7" />
<line x1="491.3" y1="288.6" x2="491.3" y2="289.8" stroke="#444" stroke-width="0.7" />
<line x1="496.2" y1="288.6" x2="496.2" y2="290.6" stroke="#444" stroke-width="0.7" />
<line x1="501.1" y1="288.6" x2="501.1" y2="289.8" stroke="#444" stroke-width="0.7" />
<text x="320" y="199" font-size="6.6" textLength="15.6" lengthAdjust="spacingAndGlyphs" fill="#1a1a1a" stroke="#1a1a1a" stroke-width="0.13" >shLuc</text>
<text x="366.7" y="199.2" font-size="6.6" textLength="23" lengthAdjust="spacingAndGlyphs" fill="#1a1a1a" stroke="#1a1a1a" stroke-width="0.13" >shTCPTP</text>
<text x="414" y="199.3" font-size="6.6" textLength="15.3" lengthAdjust="spacingAndGlyphs" fill="#1a1a1a" stroke="#1a1a1a" stroke-width="0.13" >shLuc</text>
<text x="471.9" y="199.2" font-size="6.6" textLength="22.7" lengthAdjust="spacingAndGlyphs" fill="#1a1a1a" stroke="#1a1a1a" stroke-width="0.13" >shTCPTP</text>
<path d="M326.7,202 Q327.5,213 338.5,214.3" stroke="#333" stroke-width="0.7" fill="none" />
<path d="M341.5,214.3 L338.5,212.70000000000002 L338.5,215.9 Z" stroke="none" stroke-width="1" fill="#333" />
<path d="M378,202.9 Q377,213 371.5,214.3" stroke="#333" stroke-width="0.7" fill="none" />
<path d="M368.6,214.3 L371.6,212.70000000000002 L371.6,215.9 Z" stroke="none" stroke-width="1" fill="#333" />
<path d="M418.8,201.2 Q421,217.5 432,218.8" stroke="#333" stroke-width="0.7" fill="none" />
<path d="M435,219 L432,217.4 L432,220.6 Z" stroke="none" stroke-width="1" fill="#333" />
<path d="M434.1,218.7 L443,220.4 L444.9,226.7 L446.8,231.8 L448,228 L450,223 L451.9,230.5 L453.6,239" stroke="#222" stroke-width="0.9" fill="none" />
<path d="M485,202 Q484,212 477.8,213.3" stroke="#333" stroke-width="0.7" fill="none" />
<path d="M474.8,213.3 L477.8,211.70000000000002 L477.8,214.9 Z" stroke="none" stroke-width="1" fill="#333" />
</svg>
</body></html>
